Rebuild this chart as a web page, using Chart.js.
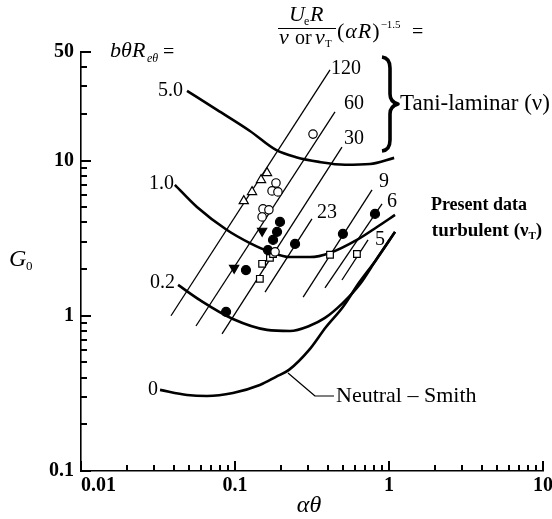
<!DOCTYPE html>
<html><head><meta charset="utf-8">
<script src="https://cdn.jsdelivr.net/npm/chart.js@4.4.1/dist/chart.umd.min.js"></script>
<style>html,body{margin:0;padding:0;background:#fff}#wrap{width:552px;height:519px}</style>
</head><body><div id="wrap"><canvas id="c" width="552" height="519"></canvas></div>
<script>
// ---- axis ticks ----
const xTicks = [0.01, 0.1, 1, 10];
const xTickLabels = ['\u00a0\u00a0\u00a0\u00a0\u00a0\u00a0\u00a00.01', '0.1', '1', '10'];
const yTicks = [0.1, 1, 10, 50];
const yTickLabels = ['0.1', '1', '10', '50'];
const xMinorTicks = [0.02, 0.03, 0.04, 0.05, 0.06, 0.07, 0.08, 0.09, 0.2, 0.3, 0.4, 0.5, 0.6, 0.7, 0.8, 0.9, 2, 3, 4, 5, 6, 7, 8, 9];
const yMinorTicks = [0.2, 0.3, 0.4, 0.5, 0.6, 0.7, 0.8, 0.9, 2, 3, 4, 5, 6, 7, 8, 9, 20, 30, 40];

// ---- curves of constant bθR_eθ (αθ, G0) ----
const c50X = [0.0488, 0.0764, 0.125, 0.1845, 0.249, 0.351, 0.518, 0.753, 1.08];
const c50Y = [28.1, 21.2, 15.5, 11.7, 10.5, 9.8, 9.4, 9.5, 10.4];
const c10X = [0.0407, 0.0566, 0.0887, 0.125, 0.1686, 0.2275, 0.307, 0.414, 0.619, 0.836, 1.094];
const c10Y = [6.97, 5.02, 3.57, 2.94, 2.58, 2.39, 2.39, 2.54, 3.08, 3.73, 4.46];
const c02X = [0.0427, 0.0593, 0.097, 0.1614, 0.2275, 0.303, 0.384, 0.502, 0.649, 0.824, 1.094];
const c02Y = [1.58, 1.26, 0.953, 0.811, 0.798, 0.859, 0.968, 1.21, 1.60, 2.29, 3.47];
const c0X = [0.0326, 0.0488, 0.0658, 0.097, 0.145, 0.1845, 0.224, 0.303, 0.390, 0.502, 0.638, 0.824, 1.094];
const c0Y = [0.333, 0.309, 0.304, 0.318, 0.358, 0.404, 0.448, 0.603, 0.847, 1.14, 1.63, 2.29, 3.47];

// ---- straight lines of constant parameter (end points) ----
const r120X = [0.0384, 0.414]; const r120Y = [1.00, 38.4];
const r60X = [0.0558, 0.446];  const r60Y = [0.859, 20.6];
const r30X = [0.0824, 0.495];  const r30Y = [0.764, 12.2];
const t23X = [0.1567, 0.316];  const t23Y = [1.42, 4.21];
const t9X = [0.277, 0.776];    const t9Y = [1.32, 6.47];
const t6X = [0.384, 0.901];    const t6Y = [1.51, 5.25];
const t5X = [0.495, 0.731];    const t5Y = [1.70, 3.08];

// ---- data points ----
const openTriX = [0.114, 0.129, 0.1476, 0.1614];
const openTriY = [5.49, 6.28, 7.50, 8.32];
const openCircX = [0.1845, 0.174, 0.190, 0.152, 0.166, 0.150, 0.182, 0.321];
const openCircY = [7.17, 6.37, 6.28, 4.88, 4.81, 4.33, 2.58, 14.8];
const fillTriX = [0.150, 0.0987];
const fillTriY = [3.52, 2.03];
const fillCircX = [0.1178, 0.0875, 0.196, 0.1875, 0.1766, 0.1637, 0.2455, 0.502, 0.811];
const fillCircY = [1.97, 1.06, 4.02, 3.47, 3.08, 2.65, 2.90, 3.37, 4.53];
const openSqX = [0.150, 0.145, 0.1686, 0.1766, 0.414, 0.619];
const openSqY = [2.16, 1.73, 2.36, 2.50, 2.47, 2.50];

function pts(xs, ys) { return xs.map((x, i) => ({ x: x, y: ys[i] })); }
const SERIF = '"Liberation Serif", "DejaVu Serif", serif';

const curve = (label, xs, ys) => ({ label, data: pts(xs, ys), showLine: true, borderColor: '#000', borderWidth: 2.6,
  pointRadius: 0, cubicInterpolationMode: 'monotone', fill: false, order: 3 });
const straight = (label, xs, ys) => ({ label, data: pts(xs, ys), showLine: true, borderColor: '#000', borderWidth: 1.3,
  pointRadius: 0, fill: false, order: 2 });
const marker = (label, xs, ys, style, filled, r, rot) => ({ label, data: pts(xs, ys), showLine: false,
  pointStyle: style, pointRadius: r, pointRotation: rot || 0, pointBorderColor: '#000', pointBackgroundColor: filled ? '#000' : '#fff',
  pointBorderWidth: 1.2, borderColor: '#000', backgroundColor: filled ? '#000' : '#fff', order: 0 });

const datasets = [
  curve('5.0', c50X, c50Y), curve('1.0', c10X, c10Y), curve('0.2', c02X, c02Y), curve('0', c0X, c0Y),
  straight('120', r120X, r120Y), straight('60', r60X, r60Y), straight('30', r30X, r30Y),
  straight('23', t23X, t23Y), straight('9', t9X, t9Y), straight('6', t6X, t6Y), straight('5', t5X, t5Y),
  marker('open triangles', openTriX, openTriY, 'triangle', false, 5.3),
  marker('open circles', openCircX, openCircY, 'circle', false, 4.2),
  marker('filled triangles', fillTriX, fillTriY, 'triangle', true, 5.3, 180),
  marker('filled circles', fillCircX, fillCircY, 'circle', true, 4.5),
  marker('open squares', openSqX, openSqY, 'rect', false, 4.7)
];

const tickPlugin = {
  id: 'inwardTicks',
  afterDraw(chart) {
    const ctx = chart.ctx, xa = chart.scales.x, ya = chart.scales.y;
    ctx.save();
    ctx.globalAlpha = 1; ctx.globalCompositeOperation = 'source-over';
    ctx.setTransform(1, 0, 0, 1, 0, 0);
    ctx.fillStyle = '#000000';
    const left = Math.round(xa.left), bottom = Math.round(ya.bottom);
    for (const v of xTicks.concat(xMinorTicks)) {
      const len = xTicks.indexOf(v) >= 0 ? 10 : 6;
      const px = Math.round(xa.getPixelForValue(v));
      ctx.fillRect(px - 1, bottom - len, 2, len);
    }
    for (const v of yTicks.concat(yMinorTicks)) {
      const len = yTicks.indexOf(v) >= 0 ? 10 : 6;
      const py = Math.round(ya.getPixelForValue(v));
      ctx.fillRect(left, py - 1, len, 2);
    }
    ctx.restore();
  }
};

const annot = {
  id: 'annot',
  afterDraw(chart) {
    const ctx = chart.ctx;
    ctx.save();
    ctx.strokeStyle = '#000'; ctx.fillStyle = '#000';
    const seg = (a, b, c, d) => { ctx.beginPath(); ctx.moveTo(a, b); ctx.lineTo(c, d); ctx.stroke(); };
    const t = (s, x, y, font, align, base) => { ctx.font = font; ctx.textAlign = align || 'left'; ctx.textBaseline = base || 'alphabetic'; ctx.fillText(s, x, y); return ctx.measureText(s).width; };
    const R20 = '20px ' + SERIF, I22 = 'italic 22px ' + SERIF, R12 = '12px ' + SERIF, I12 = 'italic 12px ' + SERIF;
    t('G', 9, 266, 'italic 24px ' + SERIF);
    t('0', 26, 270, '13px ' + SERIF);
    t('\u03b1\u03b8', 309, 512, 'italic 24px ' + SERIF, 'center');
    t('b', 110, 57, I22); t('\u03b8', 121, 57, I22); t('R', 132, 57, I22);
    t('e\u03b8', 147, 62, I12); t('=', 163, 58, R20);
    t('U', 289, 21, I22); t('e', 304, 25, R12); t('R', 310, 21, I22);
    ctx.lineWidth = 1; seg(278, 28.5, 336, 28.5);
    t('\u03bd', 279, 44, I22); t('or', 295, 44, R20); t('\u03bd', 315, 44, I22); t('T', 325, 47, '11px ' + SERIF);
    let fx = 337;
    fx += t('(', fx, 38, '22px ' + SERIF) + 1;
    fx += t('\u03b1', fx, 38, I22) + 1;
    fx += t('R', fx, 38, I22) + 1;
    fx += t(')', fx, 38, '22px ' + SERIF) + 1;
    t('\u22121.5', fx, 28, '11px ' + SERIF); t('=', 412, 38, R20);
    t('5.0', 183, 91, R20, 'right', 'middle');
    t('1.0', 174, 184, R20, 'right', 'middle');
    t('0.2', 175, 283, R20, 'right', 'middle');
    t('0', 158, 390, R20, 'right', 'middle');
    t('120', 331, 69, R20, 'left', 'middle');
    t('60', 344, 104, R20, 'left', 'middle');
    t('30', 344, 139, R20, 'left', 'middle');
    t('23', 317, 213, R20, 'left', 'middle');
    t('9', 379, 182, R20, 'left', 'middle');
    t('6', 387, 202, R20, 'left', 'middle');
    t('5', 375, 240, R20, 'left', 'middle');
    ctx.lineWidth = 3.6; ctx.lineJoin = 'round';
    ctx.beginPath(); ctx.moveTo(382, 57);
    ctx.quadraticCurveTo(390, 58, 390, 68); ctx.lineTo(390, 94);
    ctx.quadraticCurveTo(390, 102, 398, 104);
    ctx.quadraticCurveTo(390, 106, 390, 114); ctx.lineTo(390, 140);
    ctx.quadraticCurveTo(390, 150, 382, 151); ctx.stroke();
    t('Tani-laminar (\u03bd)', 400, 104, '23px ' + SERIF, 'left', 'middle');
    t('Present data', 479, 205, 'bold 18px ' + SERIF, 'center', 'middle');
    const F = 'bold 19px ' + SERIF;
    ctx.font = F; const w1 = ctx.measureText('turbulent (\u03bd').width; const w2 = ctx.measureText(')').width;
    ctx.font = 'bold 11px ' + SERIF; const wT = ctx.measureText('T').width;
    const x0 = 487 - (w1 + wT + w2) / 2;
    t('turbulent (\u03bd', x0, 236, F); t('T', x0 + w1, 239, 'bold 11px ' + SERIF); t(')', x0 + w1 + wT, 236, F);
    ctx.lineWidth = 1.2; ctx.beginPath(); ctx.moveTo(288, 373); ctx.lineTo(315, 396); ctx.lineTo(334, 396); ctx.stroke();
    t('Neutral \u2013 Smith', 336, 396, '22px ' + SERIF, 'left', 'middle');
    ctx.restore();
  }
};

new Chart(document.getElementById('c'), {
  type: 'scatter',
  data: { datasets },
  options: {
    responsive: false, devicePixelRatio: 1, animation: false,
    layout: { padding: { top: 52, right: 9, left: 0, bottom: 0 } },
    plugins: { legend: { display: false }, tooltip: { enabled: false } },
    scales: {
      x: {
        type: 'logarithmic', min: 0.01, max: 10, position: 'bottom',
        afterBuildTicks: s => { s.ticks = xTicks.map(v => ({ value: v })); },
        afterFit: s => { s.height = 48; s.paddingLeft = 0; s.paddingRight = 0; },
        grid: { display: false, drawTicks: false },
        border: { display: true, color: '#000', width: 1.6 },
        ticks: { autoSkip: false, maxRotation: 0, padding: 3, color: '#000',
          font: { family: SERIF, size: 20, weight: 'bold' },
          callback: (v, i) => xTickLabels[i] }
      },
      y: {
        type: 'logarithmic', min: 0.1, max: 50, position: 'left',
        afterBuildTicks: s => { s.ticks = yTicks.map(v => ({ value: v })); },
        afterFit: s => { s.width = 81; },
        grid: { display: false, drawTicks: false },
        border: { display: true, color: '#000', width: 1.6 },
        ticks: { autoSkip: false, padding: 7, color: '#000',
          font: { family: SERIF, size: 20, weight: 'bold' },
          callback: (v, i) => yTickLabels[i] }
      }
    }
  },
  plugins: [annot, tickPlugin]
});
</script></body></html>
